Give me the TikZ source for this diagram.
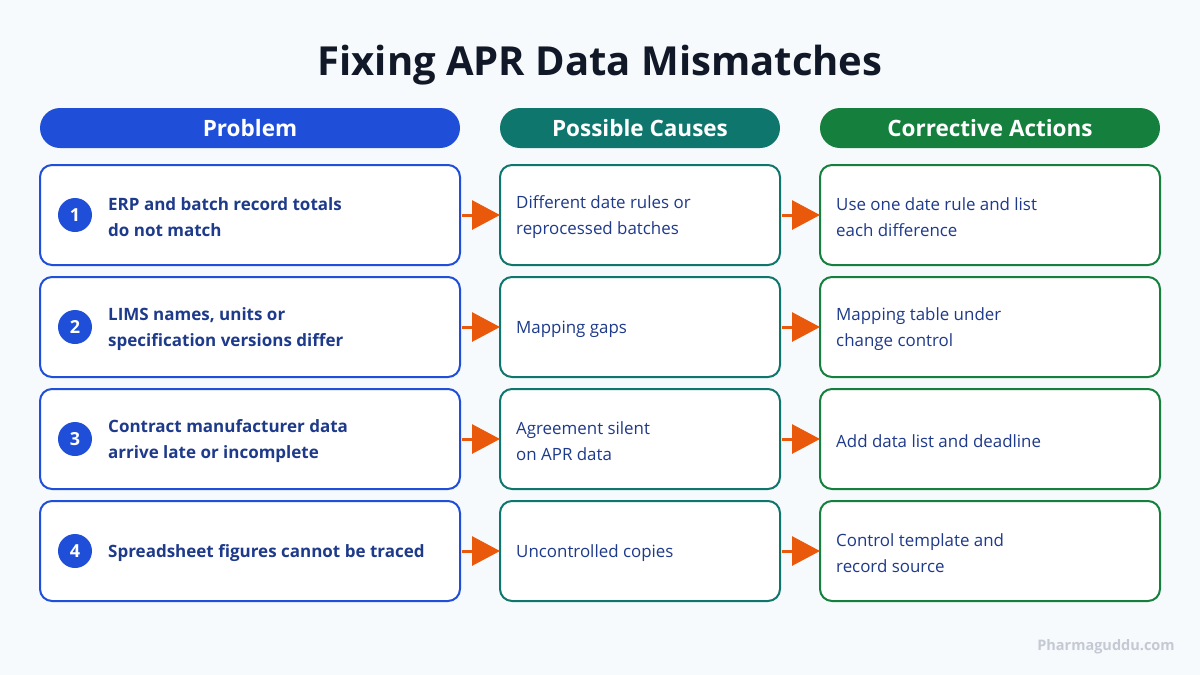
\documentclass[tikz,border=0pt]{standalone}
\usepackage{fontspec}
\setmainfont{Open Sans}
\usetikzlibrary{arrows.meta}
\definecolor{bg}{HTML}{F7FAFC}
\definecolor{pblue}{HTML}{1F4FD8}
\definecolor{cteal}{HTML}{0F766E}
\definecolor{agreen}{HTML}{15803D}
\definecolor{navy}{HTML}{1E3A8A}
\definecolor{titlec}{HTML}{111827}
\definecolor{arrowc}{HTML}{EA580C}
\definecolor{wm}{HTML}{C4C9D4}
\tikzset{
  head/.style={rounded corners=20pt, minimum height=40pt, inner sep=0pt, text=white, font=\fontsize{22.5}{26}\selectfont\bfseries},
  rowbox/.style={draw, line width=2pt, fill=white, rounded corners=12pt, minimum height=100pt, inner sep=0pt},
  pbox/.style={rowbox, draw=pblue, minimum width=420pt},
  cbox/.style={rowbox, draw=cteal, minimum width=280pt},
  abox/.style={rowbox, draw=agreen, minimum width=340pt},
  num/.style={circle, fill=pblue, minimum size=34pt, inner sep=0pt, text=white, font=\fontsize{18}{20}\selectfont\bfseries},
  ptext/.style={anchor=west, align=left, text=navy, inner sep=0pt, font=\fontsize{17}{26}\selectfont\bfseries},
  btext/.style={anchor=west, align=left, text=navy, inner sep=0pt, font=\fontsize{16.9}{26}\selectfont},
  flow/.style={draw=arrowc, line width=3pt, -{Triangle[length=28pt,width=29pt]}, shorten <=1pt, shorten >=-1pt},
}
\begin{document}
\begin{tikzpicture}[x=1pt,y=-1pt]
\fill[bg] (0,0) rectangle (1200,675);
\useasboundingbox (0,0) rectangle (1200,675);
\node[text=titlec, font=\fontsize{40}{46}\selectfont\bfseries] (title) at (600,65) {Fixing APR Data Mismatches};
\node[head, fill=pblue, minimum width=420pt] (h1) at (250,128) {Problem};
\node[head, fill=cteal, minimum width=280pt] (h2) at (640,128) {Possible Causes};
\node[head, fill=agreen, minimum width=340pt] (h3) at (990,128) {Corrective Actions};
% rows
\foreach \i/\y/\pt/\ct/\at in {
 1/215/{ERP and batch record totals\\do not match}/{Different date rules or\\reprocessed batches}/{Use one date rule and list\\each difference},
 2/327/{LIMS names, units or\\specification versions differ}/{Mapping gaps}/{Mapping table under\\change control},
 3/439/{Contract manufacturer data\\arrive late or incomplete}/{Agreement silent\\on APR data}/{Add data list and deadline},
 4/551/{Spreadsheet figures cannot be traced}/{Uncontrolled copies}/{Control template and\\record source}}
{
  \node[pbox] (p\i) at (250,\y) {};
  \node[cbox] (c\i) at (640,\y) {};
  \node[abox] (a\i) at (990,\y) {};
  \node[num] (n\i) at (75,\y) {\i};
  \node[ptext] (pt\i) at (108,\y+2) {\pt};
  \node[btext] (ct\i) at (516,\y+2) {\ct};
  \node[btext] (at\i) at (836,\y+2) {\at};
  \draw[flow] (p\i.east) -- (c\i.west);
  \draw[flow] (c\i.east) -- (a\i.west);
}
\node[text=wm, font=\fontsize{14.5}{16}\selectfont\bfseries] (wmk) at (1106,647) {Pharmaguddu.com};
\end{tikzpicture}
\end{document}
